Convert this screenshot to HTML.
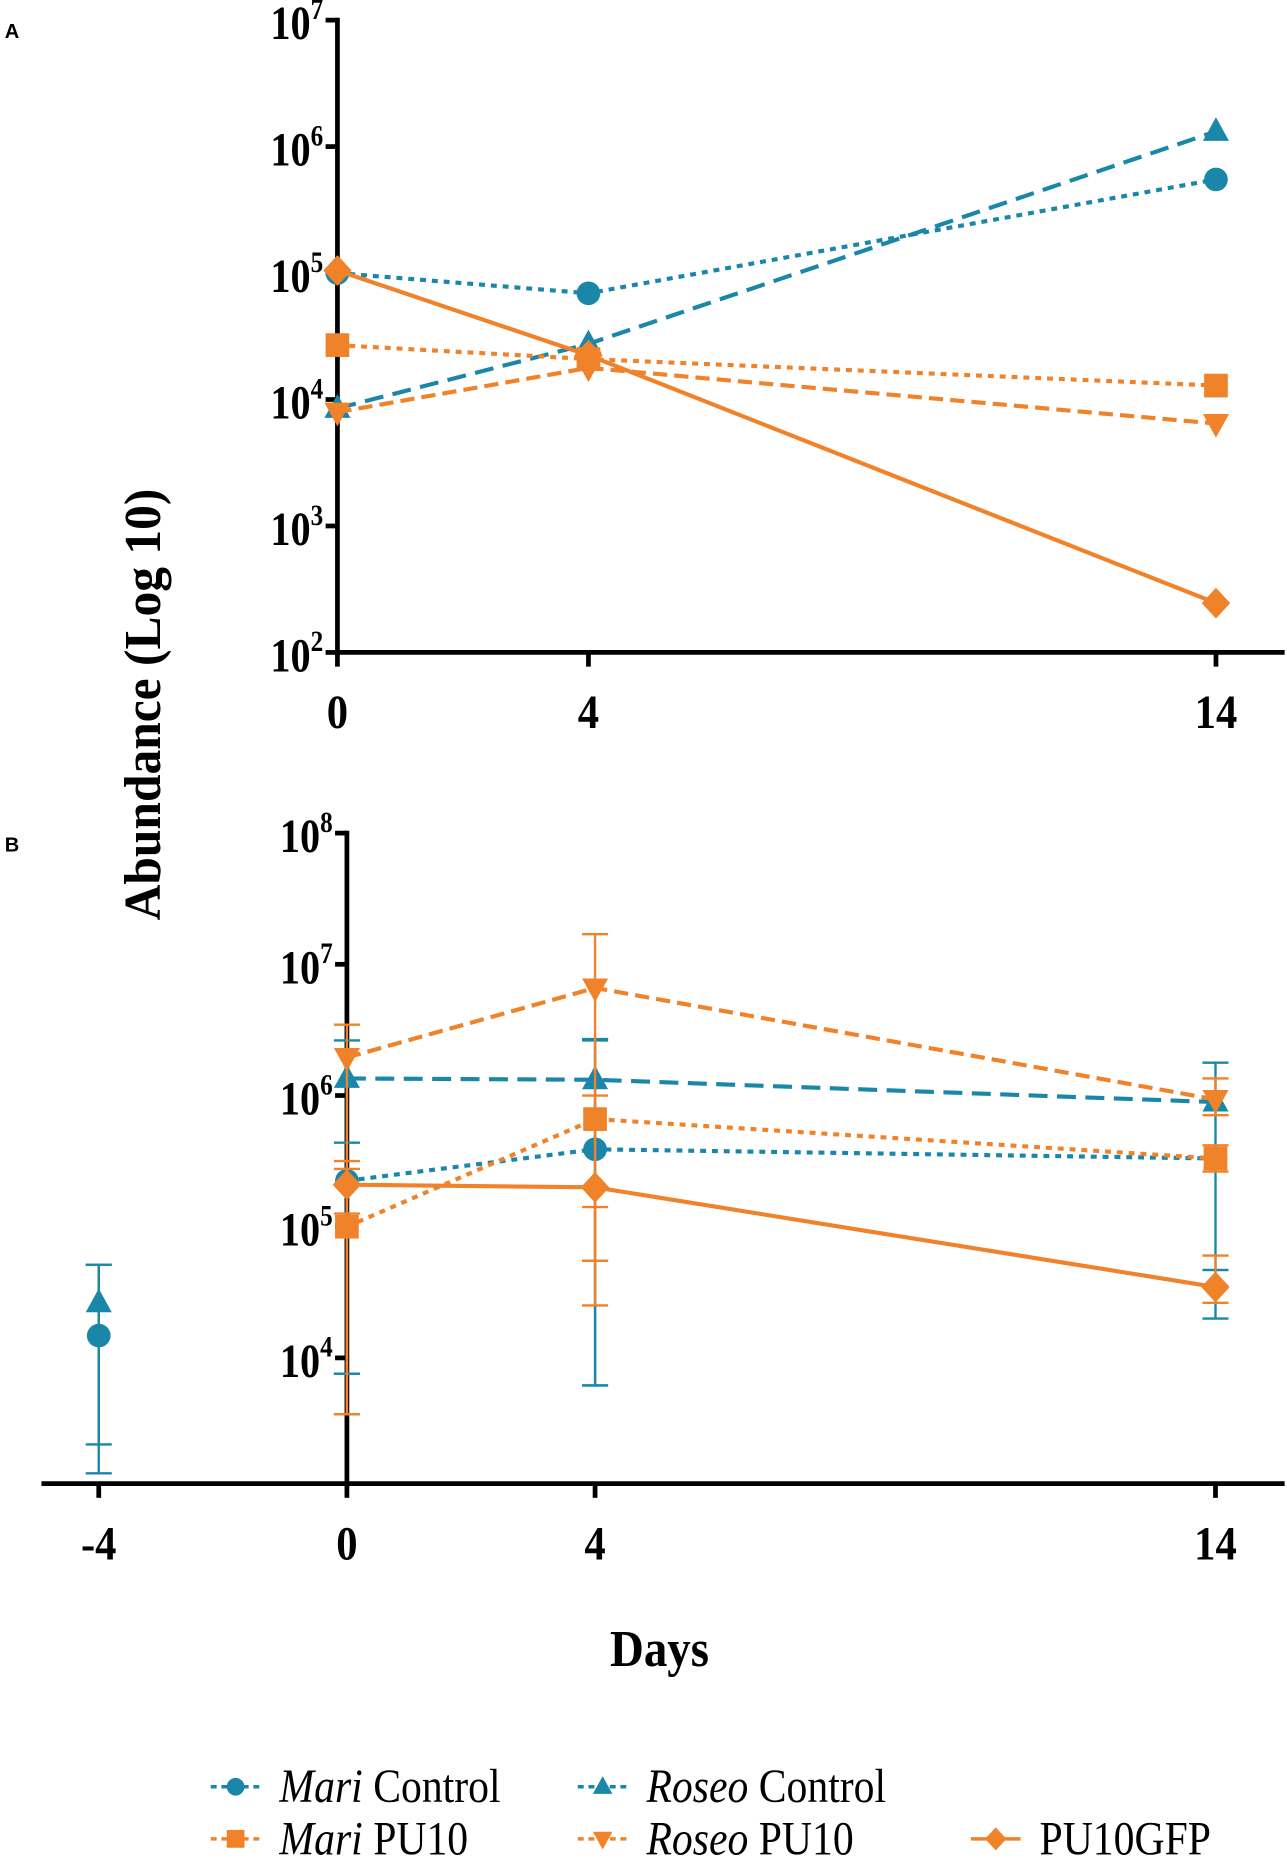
<!DOCTYPE html>
<html><head><meta charset="utf-8"><style>
html,body{margin:0;padding:0;background:#fff;}
svg{display:block;}
text{font-family:"Liberation Serif",serif;}
</style></head><body>
<svg id="chart" width="1287" height="1859" viewBox="0 0 1087 1570" preserveAspectRatio="none" xmlns="http://www.w3.org/2000/svg">
<text x="4" y="32" font-weight="bold" font-size="17" style="font-family:'Liberation Sans',sans-serif">A</text>
<text x="4" y="719" font-weight="bold" font-size="17" style="font-family:'Liberation Sans',sans-serif">B</text>
<text transform="translate(135,595) rotate(-90) scale(0.95,1)" text-anchor="middle" font-weight="bold" font-size="44">Abundance (Log 10)</text>
<text x="557" y="1407" text-anchor="middle" font-weight="bold" font-size="44" transform="translate(557,0) scale(0.9,1) translate(-557,0)">Days</text>
<g id="gA"></g><g id="gB"></g><g id="legend"></g>
</svg>
<script>
var NS="http://www.w3.org/2000/svg";
var TEAL="#1a87a8", ORANGE="#f0822a";
var seriesNames=["mari-control","roseo-control","mari-pu10","roseo-pu10","pu10gfp"];
// Panel A (log10 values)
var daysA=[0,4,14];
var aMariControl=[5.0,4.84,5.74];
var aRoseoControl=[3.93,4.44,6.12];
var aMariPU10=[4.43,4.32,4.11];
var aRoseoPU10=[3.9,4.25,3.81];
var aPU10GFP=[5.02,4.35,2.39];
var ticksA=[2,3,4,5,6,7];
var xTicksA=[0,4,14];
// Panel B (log10 values)
var daysB=[-4,0,4,14];
var bMariControl=[4.17,5.35,5.59,5.52];
var bRoseoControl=[4.42,6.13,6.12,5.95];
var bMariPU10=[null,5.0,5.82,5.52];
var bRoseoPU10=[null,6.29,6.82,5.97];
var bPU10GFP=[null,5.32,5.30,4.54];
var bMariControlHi=[4.71,5.64,6.42,4.67];
var bMariControlLo=[3.34,3.88,3.79,4.30];
var bRoseoControlHi=[4.71,6.42,6.43,6.25];
var bRoseoControlLo=[3.12,3.88,3.79,4.67];
var bMariPU10Hi=[null,5.44,6.0,5.62];
var bMariPU10Lo=[null,3.57,4.74,5.42];
var bRoseoPU10Hi=[null,6.54,7.23,6.13];
var bRoseoPU10Lo=[null,3.57,4.74,5.85];
var bPU10GFPHi=[null,5.50,5.15,4.78];
var bPU10GFPLo=[null,5.10,4.4,4.42];
var ticksB=[4,5,6,7,8];
var xTicksB=[-4,0,4,14];

function el(tag,attrs,parent){var e=document.createElementNS(NS,tag);for(var k in attrs)e.setAttribute(k,attrs[k]);parent.appendChild(e);return e;}
function marker(g,type,x,y,c,s){
 var m;
 if(type=="circle") m=el("circle",{cx:x,cy:y,r:10*s,fill:c},g);
 else if(type=="tri") m=el("polygon",{points:(x)+","+(y-12*s)+" "+(x-11*s)+","+(y+8*s)+" "+(x+11*s)+","+(y+8*s),fill:c},g);
 else if(type=="square") m=el("rect",{x:x-10*s,y:y-10*s,width:20*s,height:20*s,fill:c},g);
 else if(type=="itri") m=el("polygon",{points:(x)+","+(y+12*s)+" "+(x-11*s)+","+(y-8*s)+" "+(x+11*s)+","+(y-8*s),fill:c},g);
 else m=el("polygon",{points:x+","+(y-13*s)+" "+(x+12*s)+","+y+" "+x+","+(y+13*s)+" "+(x-12*s)+","+y,fill:c},g);
 
 
}
var styles=[{c:TEAL,d:"5 5",m:"circle"},{c:TEAL,d:"16 8",m:"tri"},{c:ORANGE,d:"5 5",m:"square"},{c:ORANGE,d:"12 6",m:"itri"},{c:ORANGE,d:"",m:"diamond"}];

function drawPanel(g,opt){
 var sx=opt.sx, sy=opt.sy;
 var ax=el("line",{x1:opt.ax,y1:sy(opt.yTicks[opt.yTicks.length-1])-2,x2:opt.ax,y2:opt.axY+2,stroke:"#000","stroke-width":4},g);
 
 var xa=el("line",{x1:opt.xStart,y1:opt.axY,x2:1085,y2:opt.axY,stroke:"#000","stroke-width":4},g);
 
 opt.yTicks.forEach(function(t){
  var y=sy(t);
  el("line",{x1:opt.ax-10,y1:y,x2:opt.ax,y2:y,stroke:"#000","stroke-width":4},g);
  var tx=el("text",{x:opt.ax-12,y:y+opt.lblDy,"text-anchor":"end","font-weight":"bold","font-size":40},g);
  
  tx.setAttribute("transform","translate("+(opt.ax-12)+",0) scale(0.85,1) translate("+(-(opt.ax-12))+",0)");
  tx.textContent="10";
  var sp=el("tspan",{dy:-17,"font-size":25},tx);sp.textContent=t;
 });
 opt.xTicks.forEach(function(d){
  var x=sx(d);
  el("line",{x1:x,y1:opt.axY,x2:x,y2:opt.axY+12,stroke:"#000","stroke-width":4},g);
  var tx=el("text",{x:x,y:opt.axY+64,"text-anchor":"middle","font-weight":"bold","font-size":40},g);
  
  tx.setAttribute("transform","translate("+x+",0) scale(0.9,1) translate("+(-x)+",0)");
  tx.textContent=d;
 });
 opt.series.forEach(function(vals,i){
  var st=styles[i];
  if(opt.hi){
   var hi=opt.hi[i], lo=opt.lo[i];
   vals.forEach(function(v,j){
    if(v==null||hi[j]==null)return;
    var x=sx(opt.days[j]);
    var eb=el("g",{stroke:st.c,"stroke-width":2},g);
    
    el("line",{x1:x,y1:sy(hi[j]),x2:x,y2:sy(lo[j])},eb);
    el("line",{x1:x-11,y1:sy(hi[j]),x2:x+11,y2:sy(hi[j])},eb);
    el("line",{x1:x-11,y1:sy(lo[j]),x2:x+11,y2:sy(lo[j])},eb);
   });
  }
  var pts=[];
  vals.forEach(function(v,j){ if(v!=null && opt.days[j]>=0) pts.push(sx(opt.days[j])+","+sy(v)); });
  var pl=el("polyline",{points:pts.join(" "),fill:"none",stroke:st.c,"stroke-width":3.5,"stroke-dasharray":st.d},g);
  
  vals.forEach(function(v,j){ if(v!=null) marker(g,st.m,sx(opt.days[j]),sy(v),st.c,1); });
 });
}
drawPanel(document.getElementById("gA"),{
 sx:function(d){return 285+d*53;}, sy:function(v){return 551-(v-2)*106.8;},
 ax:285, axY:551, xStart:285, yTicks:ticksA, xTicks:xTicksA, lblDy:16, days:daysA,
 series:[aMariControl,aRoseoControl,aMariPU10,aRoseoPU10,aPU10GFP]
});
drawPanel(document.getElementById("gB"),{
 sx:function(d){return 293+d*52.4;}, sy:function(v){return 1036-(v-5)*110.8;},
 ax:293, axY:1253, xStart:35, yTicks:ticksB, xTicks:xTicksB, lblDy:16, days:daysB,
 series:[bMariControl,bRoseoControl,bMariPU10,bRoseoPU10,bPU10GFP],
 hi:[bMariControlHi,bRoseoControlHi,bMariPU10Hi,bRoseoPU10Hi,bPU10GFPHi],
 lo:[bMariControlLo,bRoseoControlLo,bMariPU10Lo,bRoseoPU10Lo,bPU10GFPLo]
});
// legend
var lg=document.getElementById("legend");


var legItems=[{x:178,y:1522,i:0,it:"Mari",rest:" Control"},{x:488,y:1522,i:1,it:"Roseo",rest:" Control"},
 {x:178,y:1566,i:2,it:"Mari",rest:" PU10"},{x:488,y:1566,i:3,it:"Roseo",rest:" PU10"},{x:820,y:1566,i:4,it:"",rest:"PU10GFP"}];
legItems.forEach(function(L){
 var st=styles[L.i];
 var g=el("g",{},lg);
 
 
 el("line",{x1:L.x,y1:L.y-13,x2:L.x+42,y2:L.y-13,stroke:st.c,"stroke-width":3,"stroke-dasharray":st.d?"5 4":""},g);
 marker(g,st.m,L.x+21,L.y-13,st.c,0.75);
 var tx=el("text",{x:L.x+58,y:L.y,"font-size":40},g);
 tx.setAttribute("transform","translate("+(L.x+58)+",0) scale(0.88,1) translate("+(-(L.x+58))+",0)");
 if(L.it){var a=el("tspan",{"font-style":"italic"},tx);a.textContent=L.it;}
 var b=el("tspan",{},tx);b.textContent=L.rest;
});
</script>
</body></html>
